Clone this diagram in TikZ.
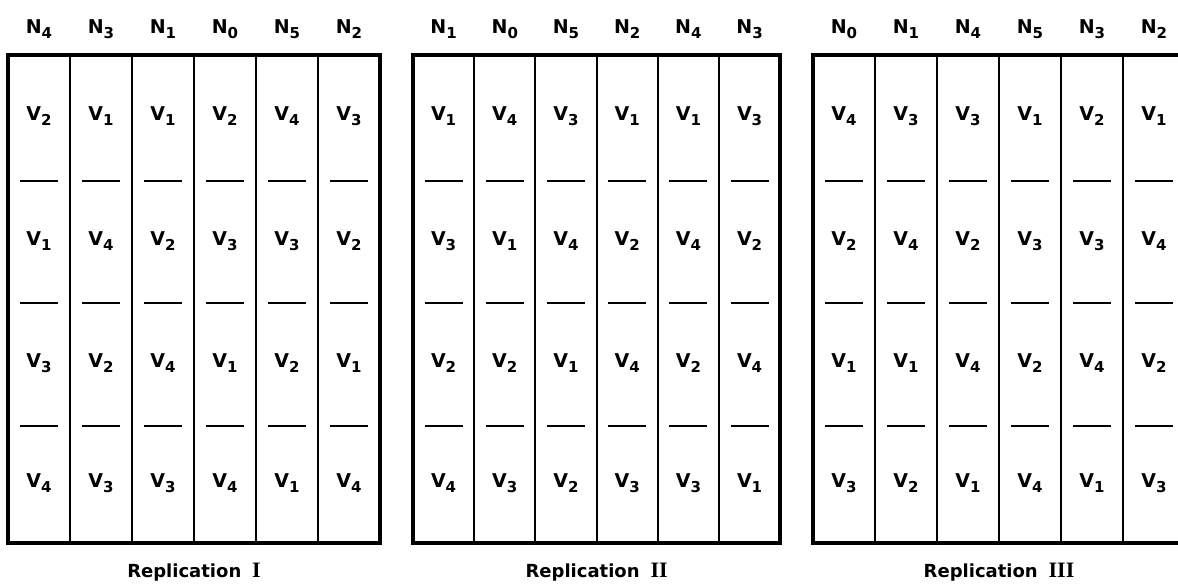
\documentclass[tikz,border=0pt]{standalone}
\usepackage{fontspec}
\newfontfamily\letf{DejaVu Sans}
\newfontfamily\romf{Liberation Serif}
\newcommand{\lab}[2]{{\letf\bfseries #1\raisebox{-0.5ex}{\fontsize{15}{15}\selectfont #2}}}
\tikzset{
  frame/.style={line width=3.8pt},
  divider/.style={line width=2pt},
  sepline/.style={line width=2.2pt},
  cell/.style={font=\fontsize{19}{19}\selectfont, inner sep=0pt},
  head/.style={font=\fontsize{19}{19}\selectfont, inner sep=0pt},
  repl/.style={font=\fontsize{18}{18}\selectfont, inner sep=0pt}
}
\begin{document}
\begin{tikzpicture}[x=1pt,y=-1pt]
\clip (0,0) rectangle (1178,584);
\fill[white] (0,0) rectangle (1178,584);
\foreach \p/\L/\W/\hd/\rows/\num in {
  1/8/62/{4,3,1,0,5,2}/{{2,1,1,2,4,3},{1,4,2,3,3,2},{3,2,4,1,2,1},{4,3,3,4,1,4}}/I,
  2/413/61.2/{1,0,5,2,4,3}/{{1,4,3,1,1,3},{3,1,4,2,4,2},{2,2,1,4,2,4},{4,3,2,3,3,1}}/II,
  3/813/62/{0,1,4,5,3,2}/{{4,3,3,1,2,1},{2,4,2,3,3,4},{1,1,4,2,4,2},{3,2,1,4,1,3}}/III}{
  % columns
  \foreach \j in {1,...,5}{
    \draw[divider] (\L+\j*\W,55) -- (\L+\j*\W,543);
  }
  \draw[frame] (\L,55) rectangle (\L+6*\W,543);
  % headers
  \foreach \n [count=\j] in \hd {
    \node[head] (h\p-\j) at (\L+\j*\W-0.5*\W,29) {\lab{N}{\n}};
  }
  % cells
  \foreach \r [count=\i] in \rows {
    \foreach \v [count=\j] in \r {
      \pgfmathsetmacro{\yy}{ \i==1 ? 116 : (\i==2 ? 241 : (\i==3 ? 363 : 483)) }
      \node[cell] (c\p-\i-\j) at (\L+\j*\W-0.5*\W,\yy) {\lab{V}{\v}};
    }
  }
  % separators
  \foreach \yy in {181,303,426}{
    \foreach \j in {1,...,6}{
      \draw[sepline] (\L+\j*\W-0.5*\W-19,\yy) -- (\L+\j*\W-0.5*\W+19,\yy);
    }
  }
  \node[repl] (r\p) at (\L+3*\W,572) {{\letf\bfseries Replication}\ \ {\romf\bfseries\fontsize{22}{22}\selectfont \num}};
}
\end{tikzpicture}
\end{document}
